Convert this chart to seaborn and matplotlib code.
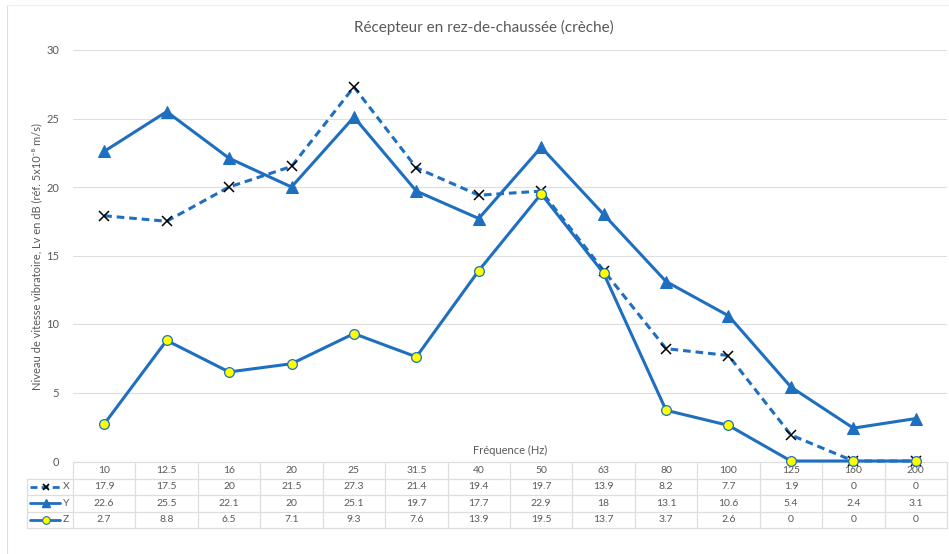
import matplotlib
matplotlib.use("Agg")
import matplotlib.pyplot as plt
import seaborn as sns
import pandas as pd
import numpy as np
from matplotlib.lines import Line2D

freqs = ["10", "12.5", "16", "20", "25", "31.5", "40", "50", "63", "80", "100", "125", "160", "200"]
x_vals = [17.9, 17.5, 20, 21.5, 27.3, 21.4, 19.4, 19.7, 13.9, 8.2, 7.7, 1.9, 0, 0]
y_vals = [22.6, 25.5, 22.1, 20, 25.1, 19.7, 17.7, 22.9, 18, 13.1, 10.6, 5.4, 2.4, 3.1]
z_vals = [2.7, 8.8, 6.5, 7.1, 9.3, 7.6, 13.9, 19.5, 13.7, 3.7, 2.6, 0, 0, 0]
series_names = ["X", "Y", "Z"]
title = "Récepteur en rez-de-chaussée (crèche)"
ylabel = "Niveau de vitesse vibratoire, Lv en dB (réf. 5x10\u207b\u2078 m/s)"
xlabel = "Fréquence (Hz)"
yticks = [0, 5, 10, 15, 20, 25, 30]

sns.set_theme(style="white")
plt.rcParams['font.family'] = ['Lato', 'DejaVu Sans']

BLUE = "#1F6FC0"
GRAY = "#595959"
GRID = "#DEDEDE"

W, H = 949, 554
fig = plt.figure(figsize=(W / 100, H / 100), dpi=100)

L, R, T, B = 73, 947, 50, 461
ax = fig.add_axes([L / W, 1 - B / H, (R - L) / W, (B - T) / H])

pos = list(range(len(freqs)))
df = pd.DataFrame({"pos": pos * 3,
                   "val": x_vals + y_vals + z_vals,
                   "serie": sum([[s] * len(freqs) for s in series_names], [])})

sns.lineplot(data=df[df.serie == "X"], x="pos", y="val", ax=ax, color=BLUE, lw=2.2,
             linestyle=(0, (2.5, 1.6)), zorder=3, clip_on=False)
sns.lineplot(data=df[df.serie == "X"], x="pos", y="val", ax=ax, lw=0,
             marker="x", markersize=6.5, markeredgecolor="black", markeredgewidth=1.1, zorder=3.5,
             clip_on=False)
sns.lineplot(data=df[df.serie == "Y"], x="pos", y="val", ax=ax, color=BLUE, lw=2.2,
             marker="^", markersize=9, markerfacecolor=BLUE, markeredgecolor=BLUE, zorder=4,
             clip_on=False)
sns.lineplot(data=df[df.serie == "Z"], x="pos", y="val", ax=ax, color=BLUE, lw=2.2,
             marker="o", markersize=7, markerfacecolor="#FFFF00", markeredgecolor=BLUE,
             markeredgewidth=0.9, zorder=5, clip_on=False)

ax.set_xlim(-0.5, len(freqs) - 0.5)
ax.set_ylim(0, 30)
ax.set_yticks(yticks)
ax.set_yticklabels([str(t) for t in yticks], color=GRAY, fontsize=8)
ax.set_xticks([])
ax.set_xlabel("")
ax.set_ylabel("")
ax.tick_params(axis="y", length=0, pad=10)
ax.yaxis.grid(True, color=GRID, lw=0.8)
for s in ax.spines.values():
    s.set_visible(False)
if ax.get_legend():
    ax.get_legend().remove()

ax.text(0.5, 0.012, xlabel, transform=ax.transAxes, ha="center", va="bottom",
        fontsize=8, color=GRAY)

fig.text(484 / W, 1 - 27 / H, title, ha="center", va="center",
         fontsize=11, color=GRAY)
fig.text(37 / W, 1 - 257 / H, ylabel, rotation=90, ha="center", va="center",
         fontsize=8, color=GRAY)

# data table below the plot
tab = fig.add_axes([0, 0, 1, 1])
tab.set_xlim(0, W)
tab.set_ylim(H, 0)
tab.axis("off")
tab.patch.set_alpha(0)
tab.set_zorder(-1)

n = len(freqs)
cw = (R - L) / n
rows_y = [462, 478.5, 495, 511.5, 528]
KL = 27
lc = dict(color=GRID, lw=0.9)
tab.plot([L, R], [rows_y[0], rows_y[0]], **lc)
for yy in rows_y[1:]:
    tab.plot([KL, R], [yy, yy], **lc)
for i in range(n + 1):
    xx = L + i * cw
    tab.plot([xx, xx], [rows_y[0], rows_y[-1]], **lc)
tab.plot([KL, KL], [rows_y[1], rows_y[-1]], **lc)

for i, f in enumerate(freqs):
    cx = L + (i + 0.5) * cw
    tab.text(cx, (rows_y[0] + rows_y[1]) / 2, f, ha="center", va="center", fontsize=7.5, color=GRAY)
    for r, vals in enumerate([x_vals, y_vals, z_vals]):
        v = vals[i]
        s = f"{v:g}"
        tab.text(cx, (rows_y[r + 1] + rows_y[r + 2]) / 2, s, ha="center", va="center",
                 fontsize=7.5, color=GRAY)

key_styles = [
    dict(ls=(0, (2.5, 1.5)), marker="x", mec="black", mfc="black", ms=5, mew=1.2),
    dict(ls="-", marker="^", mec=BLUE, mfc=BLUE, ms=6),
    dict(ls="-", marker="o", mec=BLUE, mfc="#FFFF00", ms=5.5, mew=0.8),
]
for r, name in enumerate(series_names):
    cy = (rows_y[r + 1] + rows_y[r + 2]) / 2
    tab.add_line(Line2D([30, 60], [cy, cy], color=BLUE, lw=2, ls=key_styles[r]["ls"]))
    st = {k: v for k, v in key_styles[r].items() if k != "ls"}
    tab.add_line(Line2D([46], [cy], lw=0, **st))
    tab.text(63, cy, name, ha="left", va="center", fontsize=7.5, color=GRAY)

# outer chart border (partially visible in reference)
tab.plot([7, 7], [5, H], color=GRID, lw=0.8)
tab.plot([7, W], [5, 5], color="#EEEEEE", lw=0.8)

fig.savefig("out.png", dpi=100)
